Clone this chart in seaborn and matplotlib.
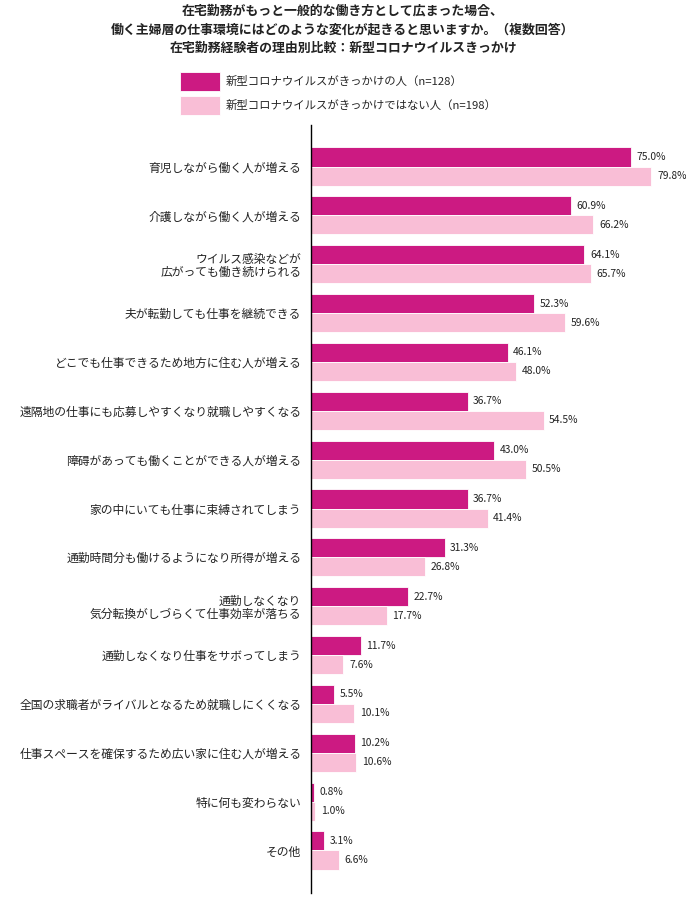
import pandas as pd
import matplotlib
matplotlib.use("Agg")
import matplotlib.pyplot as plt
import seaborn as sns

# ------------------------------
# DATA
# ------------------------------
categories = [
    "育児しながら働く人が増える",
    "介護しながら働く人が増える",
    "ウイルス感染などが\n広がっても働き続けられる",
    "夫が転勤しても仕事を継続できる",
    "どこでも仕事できるため地方に住む人が増える",
    "遠隔地の仕事にも応募しやすくなり就職しやすくなる",
    "障碍があっても働くことができる人が増える",
    "家の中にいても仕事に束縛されてしまう",
    "通勤時間分も働けるようになり所得が増える",
    "通勤しなくなり\n気分転換がしづらくて仕事効率が落ちる",
    "通勤しなくなり仕事をサボってしまう",
    "全国の求職者がライバルとなるため就職しにくくなる",
    "仕事スペースを確保するため広い家に住む人が増える",
    "特に何も変わらない",
    "その他",
]
groups = [
    "新型コロナウイルスがきっかけの人（n=128）",
    "新型コロナウイルスがきっかけではない人（n=198）",
]
corona_yes = [75.0, 60.9, 64.1, 52.3, 46.1, 36.7, 43.0, 36.7, 31.3, 22.7, 11.7, 5.5, 10.2, 0.8, 3.1]
corona_no = [79.8, 66.2, 65.7, 59.6, 48.0, 54.5, 50.5, 41.4, 26.8, 17.7, 7.6, 10.1, 10.6, 1.0, 6.6]

title = ("在宅勤務がもっと一般的な働き方として広まった場合、\n"
         "働く主婦層の仕事環境にはどのような変化が起きると思いますか。（複数回答）\n"
         "在宅勤務経験者の理由別比較：新型コロナウイルスきっかけ")

df = pd.DataFrame({
    "item": categories * 2,
    "group": [groups[0]] * len(categories) + [groups[1]] * len(categories),
    "value": corona_yes + corona_no,
})

# ------------------------------
# PLOT
# ------------------------------
sns.set_theme(style="white")
plt.rcParams["font.family"] = ["Noto Sans CJK JP", "DejaVu Sans"]

colors = ["#CC1A82", "#F9BED6"]

fig = plt.figure(figsize=(6.86, 9.08), dpi=100)
ax = fig.add_axes([311 / 686, 15 / 908, 375 / 686, 768 / 908])

sns.barplot(data=df, x="value", y="item", hue="group", orient="h",
            palette=colors, saturation=1, width=0.78, edgecolor="white",
            linewidth=0.6, ax=ax, legend=True)

ax.set_xlim(0, 87.9)
ax.set_ylim(14.87, -0.85)
ax.set_xlabel("")
ax.set_ylabel("")
ax.set_xticks([])
ax.tick_params(axis="y", length=0, pad=7, labelsize=8.5, colors="#222222")
for lbl in ax.get_yticklabels():
    lbl.set_linespacing(1.05)

for s in ["top", "right", "bottom"]:
    ax.spines[s].set_visible(False)
ax.spines["left"].set_color("black")
ax.spines["left"].set_linewidth(1.0)

for cont in ax.containers:
    ax.bar_label(cont, labels=[f"{v:.1f}%" for v in cont.datavalues],
                 padding=4, fontsize=7.4, color="#222222")

handles, labels = ax.get_legend_handles_labels()
ax.get_legend().remove()
fig.legend(handles, labels, loc="upper left",
           bbox_to_anchor=(174 / 686, 1 - 66 / 908),
           frameon=False, fontsize=8.2, handlelength=3.5, handleheight=2.2,
           handletextpad=0.55, labelspacing=0.45, borderpad=0)

fig.text(0.5, 1 - 4 / 908, title, ha="center", va="top",
         fontsize=9.3, fontweight="bold", color="#222222", linespacing=1.38)

fig.savefig("out.png", dpi=100)
